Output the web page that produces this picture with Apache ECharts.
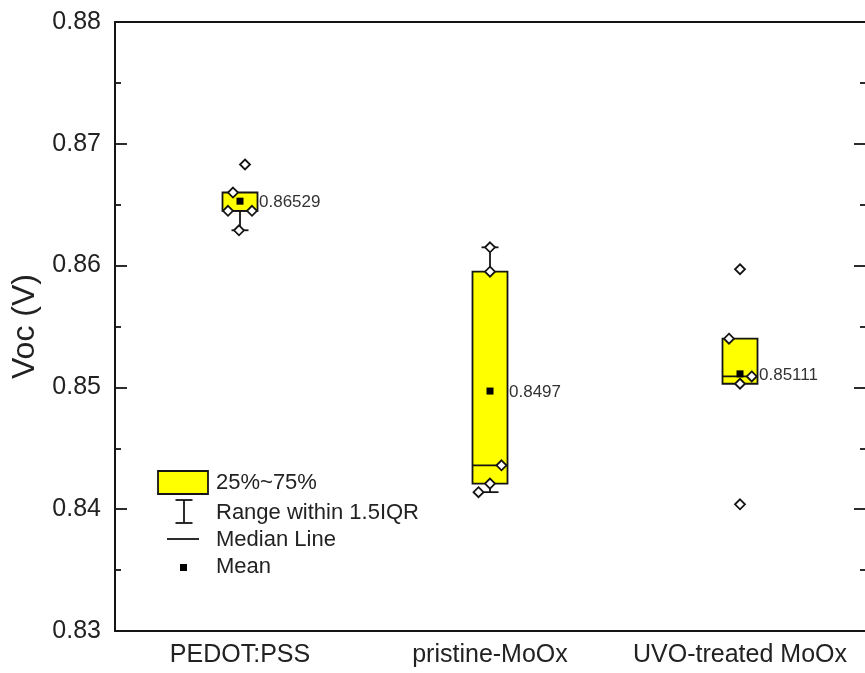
<!DOCTYPE html>
<html><head><meta charset="utf-8">
<script src="https://cdn.jsdelivr.net/npm/echarts@6/dist/echarts.min.js"></script>
<style>html,body{margin:0;padding:0;background:#fff}#c{width:865px;height:673px}</style>
</head><body><div id="c"></div>
<script>
// ---- data ----
const categories = ['PEDOT:PSS', 'pristine-MoOx', 'UVO-treated MoOx'];
const q1 = [0.8645, 0.8421, 0.8503];
const median = [0.8645, 0.8436, 0.8509];
const q3 = [0.8660, 0.8595, 0.8540];
const whiskerLow = [0.8629, 0.8414, 0.8503];
const whiskerHigh = [0.8660, 0.8615, 0.8540];
const means = [0.86529, 0.8497, 0.85111];
const meanLabels = ['0.86529', '0.8497', '0.85111'];
const pointsPEDOT = [0.8683, 0.8660, 0.8645, 0.8645, 0.8629];
const pointsPristine = [0.8615, 0.8595, 0.8436, 0.8421, 0.8414];
const pointsUVO = [0.8597, 0.8540, 0.8509, 0.8503, 0.8404];
const jitterPEDOT = [0.02, -0.028, -0.048, 0.048, -0.004];
const jitterPristine = [0, 0, 0.046, 0, -0.046];
const jitterUVO = [0, -0.044, 0.047, 0, 0];
const yMin = 0.83, yMax = 0.88, yInterval = 0.01;
const yAxisName = 'Voc (V)';
const legendTexts = ['25%~75%', 'Range within 1.5IQR', 'Median Line', 'Mean'];

// ---- build ----
const FONT = '"Liberation Sans", Arial, Helvetica, sans-serif';
const INK = '#151515';
const BOXW = 0.07, CAPW = 0.034;

const boxData = categories.map((c, i) => [i, q1[i], median[i], q3[i], whiskerLow[i], whiskerHigh[i]]);
const meanData = categories.map((c, i) => [i, means[i], meanLabels[i]]);
const allPoints = [pointsPEDOT, pointsPristine, pointsUVO];
const allJitter = [jitterPEDOT, jitterPristine, jitterUVO];
const pointData = [];
allPoints.forEach((arr, i) => arr.forEach((v, k) => pointData.push([i + 0.5 + allJitter[i][k], v])));

function renderBox(params, api) {
  const i = api.value(0);
  const band = api.size([1, 0])[0];
  const hw = band * BOXW, cw = band * CAPW;
  const x = api.coord([i, api.value(1)])[0];
  const yQ1 = api.coord([i, api.value(1)])[1];
  const yMed = api.coord([i, api.value(2)])[1];
  const yQ3 = api.coord([i, api.value(3)])[1];
  const yLo = api.coord([i, api.value(4)])[1];
  const yHi = api.coord([i, api.value(5)])[1];
  const st = { stroke: INK, lineWidth: 1.8 };
  const ch = [];
  if (Math.abs(yLo - yQ1) > 0.5) {
    ch.push({ type: 'line', shape: { x1: x, y1: yQ1, x2: x, y2: yLo }, style: st });
    ch.push({ type: 'line', shape: { x1: x - cw, y1: yLo, x2: x + cw, y2: yLo }, style: st });
  }
  if (Math.abs(yHi - yQ3) > 0.5) {
    ch.push({ type: 'line', shape: { x1: x, y1: yQ3, x2: x, y2: yHi }, style: st });
    ch.push({ type: 'line', shape: { x1: x - cw, y1: yHi, x2: x + cw, y2: yHi }, style: st });
  }
  ch.push({ type: 'rect', shape: { x: x - hw, y: yQ3, width: 2 * hw, height: yQ1 - yQ3 },
    style: { fill: '#FFFF00', stroke: INK, lineWidth: 1.8 } });
  ch.push({ type: 'line', shape: { x1: x - hw, y1: yMed, x2: x + hw, y2: yMed }, style: st });
  return { type: 'group', children: ch };
}

function renderMean(params, api) {
  const i = api.value(0);
  const band = api.size([1, 0])[0];
  const hw = band * BOXW;
  const p = api.coord([i, api.value(1)]);
  const label = meanData[params.dataIndex][2];
  return { type: 'group', children: [
    { type: 'rect', shape: { x: p[0] - 3.5, y: p[1] - 3.5, width: 7, height: 7 }, style: { fill: '#000' } },
    { type: 'text', x: p[0] + hw + 1.5, y: p[1] + 1,
      style: { text: label, fill: '#333', font: '17px ' + FONT, verticalAlign: 'middle', align: 'left' } }
  ] };
}

const axisLineStyle = { color: INK, width: 2 };
const chart = echarts.init(document.getElementById('c'));
const LX = 216;
const LF = '22px ' + FONT;
chart.setOption({
  animation: false,
  backgroundColor: '#fff',
  textStyle: { fontFamily: FONT },
  grid: { left: 115, right: -2, top: 22, bottom: 42, containLabel: false },
  xAxis: [
    { type: 'category', data: categories, position: 'bottom', boundaryGap: true,
      axisLine: { lineStyle: axisLineStyle },
      axisTick: { inside: true, alignWithLabel: true, interval: 0, length: 11, lineStyle: { color: INK, width: 1.8 } },
      axisLabel: { color: '#222', fontSize: 25, margin: 12, interval: 0, fontFamily: FONT },
      splitLine: { show: false } },
    { type: 'category', data: categories, position: 'top', boundaryGap: true,
      axisLine: { lineStyle: axisLineStyle },
      axisTick: { inside: true, alignWithLabel: true, interval: 0, length: 11, lineStyle: { color: INK, width: 1.8 } },
      axisLabel: { show: false }, splitLine: { show: false } },
    { type: 'value', min: 0, max: 3, show: false, position: 'bottom' }
  ],
  yAxis: [
    { type: 'value', min: yMin, max: yMax, interval: yInterval, position: 'left',
      name: yAxisName, nameLocation: 'middle', nameGap: 72,
      nameTextStyle: { fontSize: 32, color: '#222', fontFamily: FONT },
      axisLine: { show: true, lineStyle: axisLineStyle },
      axisTick: { show: true, inside: true, length: 12, lineStyle: { color: INK, width: 1.8 } },
      minorTick: { show: true, splitNumber: 2, length: 6, lineStyle: { color: INK, width: 1.8 } },
      axisLabel: { color: '#222', fontSize: 25, margin: 14, fontFamily: FONT,
        formatter: v => v.toFixed(2) },
      splitLine: { show: false } },
    { type: 'value', min: yMin, max: yMax, interval: yInterval, position: 'right',
      axisLine: { show: false },
      axisTick: { show: true, inside: true, length: 11, lineStyle: { color: INK, width: 1.8 } },
      minorTick: { show: true, splitNumber: 2, length: 5, lineStyle: { color: INK, width: 1.8 } },
      axisLabel: { show: false }, splitLine: { show: false } }
  ],
  series: [
    { type: 'custom', xAxisIndex: 0, yAxisIndex: 0, data: boxData, renderItem: renderBox, z: 2 },
    { type: 'scatter', xAxisIndex: 2, yAxisIndex: 0, data: pointData, symbol: 'diamond', symbolSize: 10,
      itemStyle: { color: '#fff', borderColor: INK, borderWidth: 1.8, opacity: 1 }, z: 3 },
    { type: 'custom', xAxisIndex: 0, yAxisIndex: 0, data: meanData.map(d => [d[0], d[1]]), renderItem: renderMean, z: 4 }
  ],
  graphic: [
    { type: 'rect', shape: { x: 158, y: 471, width: 50, height: 23 },
      style: { fill: '#FFFF00', stroke: INK, lineWidth: 1.8 } },
    { type: 'text', x: LX, y: 483, style: { text: legendTexts[0], font: LF, fill: '#222', verticalAlign: 'middle' } },
    { type: 'line', shape: { x1: 184, y1: 500, x2: 184, y2: 523 }, style: { stroke: INK, lineWidth: 1.8 } },
    { type: 'line', shape: { x1: 175.5, y1: 500, x2: 192.5, y2: 500 }, style: { stroke: INK, lineWidth: 1.8 } },
    { type: 'line', shape: { x1: 175.5, y1: 523, x2: 192.5, y2: 523 }, style: { stroke: INK, lineWidth: 1.8 } },
    { type: 'text', x: LX, y: 513, style: { text: legendTexts[1], font: LF, fill: '#222', verticalAlign: 'middle' } },
    { type: 'line', shape: { x1: 167, y1: 539, x2: 199, y2: 539 }, style: { stroke: INK, lineWidth: 1.8 } },
    { type: 'text', x: LX, y: 540, style: { text: legendTexts[2], font: LF, fill: '#222', verticalAlign: 'middle' } },
    { type: 'rect', shape: { x: 180, y: 564, width: 7, height: 7 }, style: { fill: '#000' } },
    { type: 'text', x: LX, y: 567, style: { text: legendTexts[3], font: LF, fill: '#222', verticalAlign: 'middle' } }
  ]
});
</script></body></html>
